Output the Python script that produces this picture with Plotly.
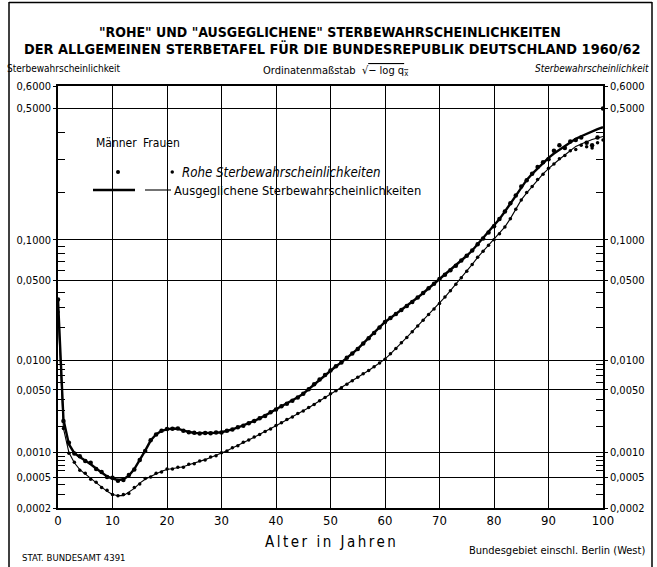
import numpy as np
import plotly.graph_objects as go

# ---------------- data ----------------
ages = list(range(0, 101))

male_smooth = [
    0.0352, 0.0024, 0.00125, 0.00098, 0.00088, 0.00080, 0.00072, 0.00064, 0.00057, 0.00051,
    0.00048, 0.00046, 0.00047, 0.00052, 0.00063, 0.00080, 0.00105, 0.00138, 0.00163, 0.00178,
    0.00186, 0.00190, 0.00189, 0.00180, 0.00173, 0.00169, 0.00168, 0.00168, 0.00169, 0.00170,
    0.00172, 0.00178, 0.00186, 0.00195, 0.00205, 0.00217, 0.00231, 0.00247, 0.00264, 0.00287,
    0.00311, 0.00334, 0.00357, 0.00382, 0.00418, 0.00456, 0.00510, 0.00570, 0.00640, 0.00710,
    0.00790, 0.00870, 0.00950, 0.01050, 0.01160, 0.0128, 0.0144, 0.0161, 0.0180, 0.0202,
    0.0226, 0.0245, 0.0265, 0.0287, 0.0310, 0.0335, 0.0365, 0.0398, 0.0434, 0.0473,
    0.0515, 0.0556, 0.0601, 0.0650, 0.0712, 0.0770, 0.0840, 0.0930, 0.1020, 0.1120,
    0.1230, 0.1370, 0.1530, 0.1710, 0.1920, 0.2140, 0.2340, 0.2520, 0.2700, 0.2880,
    0.3050, 0.3200, 0.3340, 0.3480, 0.3620, 0.3750, 0.3850, 0.3950, 0.4040, 0.4130,
    0.4210,
]

female_smooth = [
    0.0276, 0.0019, 0.00100, 0.00075, 0.00062, 0.00055, 0.00048, 0.00042, 0.00038, 0.00033,
    0.00030, 0.00029, 0.00029, 0.00032, 0.00036, 0.00042, 0.00047, 0.00051, 0.00055, 0.00059,
    0.00062, 0.00064, 0.00065, 0.00067, 0.00071, 0.00074, 0.00078, 0.00082, 0.00087, 0.00092,
    0.00098, 0.00105, 0.00113, 0.00121, 0.00131, 0.00141, 0.00151, 0.00163, 0.00175, 0.00189,
    0.00204, 0.00221, 0.00238, 0.00257, 0.00278, 0.00299, 0.00323, 0.00352, 0.00382, 0.00418,
    0.00456, 0.00490, 0.00526, 0.00574, 0.00622, 0.00675, 0.00730, 0.00790, 0.00860, 0.00935,
    0.0102, 0.0115, 0.0129, 0.0146, 0.0164, 0.0185, 0.0208, 0.0234, 0.0262, 0.0292,
    0.0325, 0.0368, 0.0415, 0.0467, 0.0525, 0.0590, 0.0665, 0.0750, 0.0830, 0.0915,
    0.1000, 0.1100, 0.1220, 0.1380, 0.1580, 0.1800, 0.1980, 0.2160, 0.2340, 0.2520,
    0.2690, 0.2850, 0.3000, 0.3150, 0.3310, 0.3460, 0.3550, 0.3640, 0.3720, 0.3780,
    0.3840,
]

male_raw = [
    0.0352, 0.0023, 0.00130, 0.00097, 0.00090, 0.00079, 0.00075, 0.00063, 0.00058, 0.00050,
    0.00049, 0.00045, 0.00046, 0.00053, 0.00062, 0.00081, 0.00104, 0.00139, 0.00162, 0.00179,
    0.00187, 0.00189, 0.00190, 0.00179, 0.00172, 0.00170, 0.00167, 0.00169, 0.00168, 0.00171,
    0.00171, 0.00179, 0.00185, 0.00196, 0.00204, 0.00218, 0.00230, 0.00248, 0.00263, 0.00288,
    0.00310, 0.00335, 0.00356, 0.00383, 0.00417, 0.00457, 0.00509, 0.00571, 0.00639, 0.00711,
    0.00789, 0.00871, 0.00949, 0.01051, 0.01159, 0.0128, 0.0144, 0.0161, 0.0180, 0.0202,
    0.0226, 0.0245, 0.0265, 0.0287, 0.0310, 0.0335, 0.0365, 0.0398, 0.0434, 0.0473,
    0.0515, 0.0556, 0.0601, 0.0650, 0.0712, 0.0770, 0.0840, 0.0930, 0.1020, 0.1120,
    0.1230, 0.1370, 0.1530, 0.1720, 0.1910, 0.2150, 0.2330, 0.2530, 0.2740, 0.2900,
    0.3000, 0.3300, 0.3500, 0.3400, 0.3650, 0.3700, 0.3800, 0.3600, 0.3500, 0.3800,
    0.5000,
]

female_raw = [
    0.0276, 0.0019, 0.00098, 0.00076, 0.00061, 0.00056, 0.00047, 0.00043, 0.00037, 0.00034,
    0.00030, 0.00029, 0.00030, 0.00031, 0.00037, 0.00041, 0.00048, 0.00050, 0.00056, 0.00058,
    0.00063, 0.00063, 0.00066, 0.00066, 0.00072, 0.00073, 0.00079, 0.00081, 0.00088, 0.00091,
    0.00099, 0.00104, 0.00114, 0.00120, 0.00132, 0.00140, 0.00152, 0.00162, 0.00176, 0.00188,
    0.00205, 0.00220, 0.00239, 0.00256, 0.00279, 0.00298, 0.00324, 0.00351, 0.00383, 0.00417,
    0.00457, 0.00489, 0.00527, 0.00573, 0.00623, 0.00674, 0.00731, 0.00789, 0.00861, 0.00934,
    0.0102, 0.0115, 0.0129, 0.0146, 0.0164, 0.0185, 0.0208, 0.0234, 0.0262, 0.0292,
    0.0325, 0.0368, 0.0415, 0.0467, 0.0525, 0.0590, 0.0665, 0.0750, 0.0830, 0.0915,
    0.1000, 0.1100, 0.1220, 0.1380, 0.1580, 0.1800, 0.1990, 0.2150, 0.2350, 0.2510,
    0.2700, 0.2840, 0.3020, 0.3130, 0.3300, 0.3350, 0.3500, 0.3450, 0.3400, 0.3600,
    0.3700,
]

ytick_q = [0.6, 0.5, 0.1, 0.05, 0.01, 0.005, 0.001, 0.0005, 0.0002]
ytick_text = ["0,6000", "0,5000", "0,1000", "0,0500", "0,0100", "0,0050", "0,0010", "0,0005", "0,0002"]
minor_q = [0.4, 0.3, 0.2, 0.09, 0.08, 0.07, 0.06, 0.04, 0.03, 0.02,
           0.009, 0.008, 0.007, 0.006, 0.004, 0.003, 0.002,
           0.0009, 0.0008, 0.0007, 0.0006, 0.0004, 0.0003]
x_ticks = list(range(0, 101, 10))


def f(q):
    """Ordinate scale: sqrt(-log10 q)."""
    return np.sqrt(-np.log10(np.asarray(q, dtype=float)))


# ---------------- geometry ----------------
W, H = 657, 567
ML, MR, MT, MB = 58, 54, 86, 59
PW, PH = W - ML - MR, H - MT - MB


def px(x):
    return (x - ML) / PW


def py(y):
    return (H - MB - y) / PH


FONT = "DejaVu Sans Condensed, Liberation Sans Narrow, Liberation Sans, Arial, sans-serif"

fig = go.Figure()

fig.add_trace(go.Scatter(x=ages, y=f(male_smooth), mode="lines",
                         line=dict(color="black", width=2.4), showlegend=False))
fig.add_trace(go.Scatter(x=ages, y=f(female_smooth), mode="lines",
                         line=dict(color="black", width=1.1), showlegend=False, yaxis="y2"))
fig.add_trace(go.Scatter(x=ages, y=f(male_raw), mode="markers",
                         marker=dict(color="black", size=4.5, symbol="circle"), showlegend=False))
fig.add_trace(go.Scatter(x=ages, y=f(female_raw), mode="markers",
                         marker=dict(color="black", size=3.5, symbol="circle"), showlegend=False,
                         yaxis="y2"))

yr = [float(f(0.0002)), float(f(0.6))]
yaxis_common = dict(
    range=yr, tickmode="array", tickvals=f(ytick_q), ticktext=ytick_text,
    ticks="outside", ticklen=3, tickcolor="black", tickwidth=1.2,
    tickfont=dict(family=FONT, size=11, color="black"),
    minor=dict(tickmode="array", tickvals=f(minor_q), ticks="inside", ticklen=7,
               tickcolor="black", tickwidth=1.2, showgrid=False),
    showline=True, linecolor="black", linewidth=1.5, zeroline=False,
)

fig.update_layout(
    width=W, height=H,
    margin=dict(l=ML, r=MR, t=MT, b=MB),
    paper_bgcolor="white", plot_bgcolor="white",
    showlegend=False,
    xaxis=dict(range=[0, 100], tickmode="array", tickvals=x_ticks, ticks="",
               tickfont=dict(family=FONT, size=13, color="black"),
               showgrid=True, gridcolor="black", gridwidth=1.2,
               showline=True, linecolor="black", linewidth=1.5, mirror=True,
               zeroline=False),
    yaxis=dict(**yaxis_common, side="left", showgrid=True, gridcolor="black", gridwidth=1.2),
    yaxis2=dict(**yaxis_common, side="right", overlaying="y", showgrid=False),
)

anns = []


def ann(text, x, y, xanchor="center", size=12, italic=False, bold=False, yanchor="middle"):
    t = text
    if bold:
        t = "<b>" + t + "</b>"
    if italic:
        t = "<i>" + t + "</i>"
    anns.append(dict(text=t, x=px(x), y=py(y), xref="paper", yref="paper",
                     xanchor=xanchor, yanchor=yanchor, showarrow=False,
                     font=dict(family=FONT, size=size, color="black")))


ann("\"ROHE\" UND \"AUSGEGLICHENE\" STERBEWAHRSCHEINLICHKEITEN", 330, 32, size=14, bold=True)
ann("DER ALLGEMEINEN STERBETAFEL FÜR DIE BUNDESREPUBLIK DEUTSCHLAND 1960/62", 332, 49, size=14.4, bold=True)
ann("Sterbewahrscheinlichkeit", 5, 69, xanchor="left", size=10)
ann("Sterbewahrscheinlichkeit", 651, 69, xanchor="right", size=10, italic=True)
ann("Ordinatenmaßstab  √<span style='text-decoration:overline'>− log q<sub>x</sub></span>",
    335, 71, size=11)
ann("Männer", 116, 143, size=12)
ann("Frauen", 161, 143, size=12)
ann("Rohe Sterbewahrscheinlichkeiten", 180, 172, xanchor="left", size=13.2, italic=True)
ann("Ausgeglichene Sterbewahrscheinlichkeiten", 172, 190, xanchor="left", size=12.8)
ann("<span style='letter-spacing:2.5px'>Alter in Jahren</span>", 331, 542, size=15)
ann("STAT. BUNDESAMT 4391", 20, 557, xanchor="left", size=9.5)
ann("Bundesgebiet einschl. Berlin (West)", 647, 550, xanchor="right", size=11)

shapes = [
    # legend samples
    dict(type="line", xref="paper", yref="paper", x0=px(93), x1=px(135), y0=py(190), y1=py(190),
         line=dict(color="black", width=2.4)),
    dict(type="line", xref="paper", yref="paper", x0=px(145), x1=px(171), y0=py(190), y1=py(190),
         line=dict(color="black", width=1.1)),
    dict(type="circle", xref="paper", yref="paper", fillcolor="black", line=dict(width=0),
         x0=px(116), x1=px(120), y0=py(174), y1=py(170)),
    dict(type="circle", xref="paper", yref="paper", fillcolor="black", line=dict(width=0),
         x0=px(170.5), x1=px(174), y0=py(173.7), y1=py(170.3)),
    # page frame
    dict(type="line", xref="paper", yref="paper", x0=px(9), x1=px(9), y0=py(2), y1=py(567),
         line=dict(color="black", width=1.5)),
    dict(type="line", xref="paper", yref="paper", x0=px(652), x1=px(652), y0=py(2), y1=py(567),
         line=dict(color="black", width=1.5)),
    dict(type="line", xref="paper", yref="paper", x0=px(9), x1=px(652), y0=py(2.5), y1=py(2.5),
         line=dict(color="black", width=1.5)),
]

fig.update_layout(annotations=anns, shapes=shapes)
fig.write_html("out.html", config={"displayModeBar": False},
               post_script="document.body.style.margin='0';document.body.style.overflow='hidden';")
